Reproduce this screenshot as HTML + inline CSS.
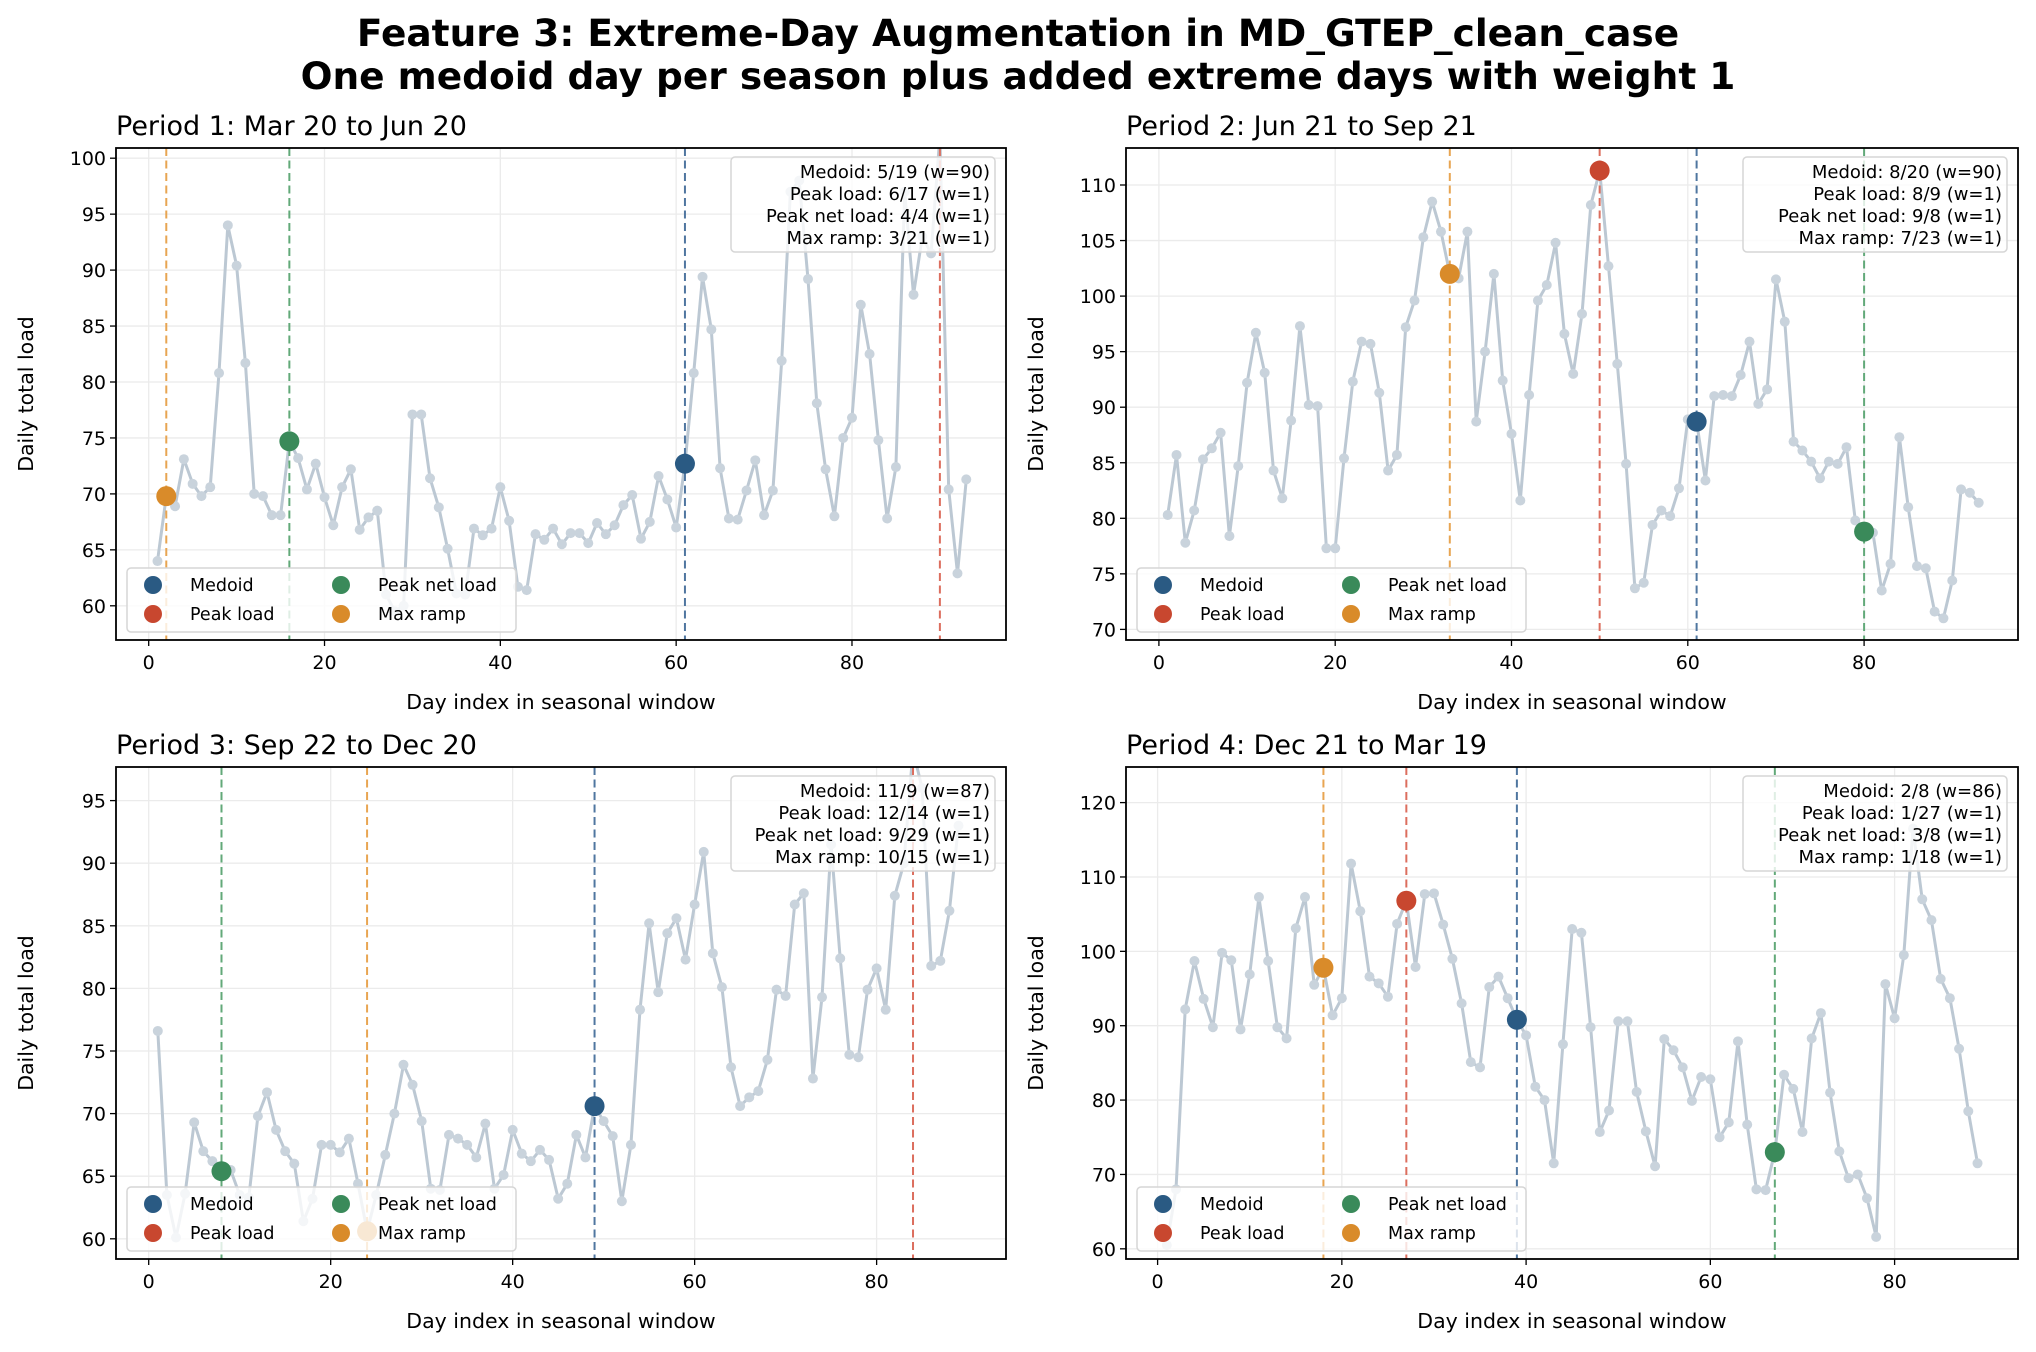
<!DOCTYPE html>
<html><head><meta charset="utf-8"><style>
html,body{margin:0;padding:0;background:#fff;}
svg{display:block;font-family:"DejaVu Sans","Liberation Sans",sans-serif;}
</style></head><body>
<svg id="s" width="2036" height="1352" viewBox="0 0 2036 1352" xmlns="http://www.w3.org/2000/svg">
<text x="1018" y="46" text-anchor="middle" font-size="37.5" font-weight="bold" fill="#000">Feature 3: Extreme-Day Augmentation in MD_GTEP_clean_case</text>
<text x="1018" y="89" text-anchor="middle" font-size="37.5" font-weight="bold" fill="#000">One medoid day per season plus added extreme days with weight 1</text>
</svg>
<script>
var S=document.getElementById('s');var NS='http://www.w3.org/2000/svg';
function el(t,a,txt,p){var e=document.createElementNS(NS,t);for(var k in a)e.setAttribute(k,a[k]);if(txt!=null)e.textContent=txt;(p||S).appendChild(e);return e;}
var C={m:'#2a5a83',p:'#c8472f',n:'#3a8a5a',r:'#d98b2a'};
var VL={m:'#4f76a0',p:'#dc6e5e',n:'#62a979',r:'#e8a552'};
var P=[
{title:'Period 1: Mar 20 to Jun 20',L:116,R:1006,T:148,B:640,x0:148.7,dx:8.791,yv:100,yp:158.2,dy:11.19,yt:[60,65,70,75,80,85,90,95,100],
info:['Medoid: 5/19 (w=90)','Peak load: 6/17 (w=1)','Peak net load: 4/4 (w=1)','Max ramp: 3/21 (w=1)'],
ev:{r:2,n:16,m:61,p:90},
d:[64.0,69.8,68.9,73.1,70.9,69.8,70.6,80.8,94.0,90.4,81.7,70.0,69.8,68.1,68.1,74.7,73.2,70.4,72.7,69.7,67.2,70.6,72.2,66.8,67.9,68.5,61,59.5,60,77.1,77.1,71.4,68.8,65.1,61.1,61.0,66.9,66.3,66.9,70.6,67.6,61.7,61.4,66.4,65.9,66.9,65.5,66.5,66.5,65.6,67.4,66.4,67.2,69.0,69.9,66.0,67.5,71.6,69.5,67.0,72.7,80.8,89.4,84.7,72.3,67.8,67.7,70.3,73.0,68.1,70.3,81.9,97,98,89.2,78.1,72.2,68.0,75.0,76.8,86.9,82.5,74.8,67.8,72.4,97,87.8,93,91.5,102,70.4,62.9,71.3]},
{title:'Period 2: Jun 21 to Sep 21',L:1126,R:2018,T:148,B:640,x0:1158.9,dx:8.815,yv:110,yp:185,dy:11.11,yt:[70,75,80,85,90,95,100,105,110],
info:['Medoid: 8/20 (w=90)','Peak load: 8/9 (w=1)','Peak net load: 9/8 (w=1)','Max ramp: 7/23 (w=1)'],
ev:{r:33,p:50,m:61,n:80},
d:[80.3,85.7,77.8,80.7,85.3,86.3,87.7,78.4,84.7,92.2,96.7,93.1,84.3,81.8,88.8,97.3,90.2,90.1,77.3,77.3,85.4,92.3,95.9,95.7,91.3,84.3,85.7,97.2,99.6,105.3,108.5,105.8,102.0,101.6,105.8,88.7,95.0,102.0,92.4,87.6,81.6,91.1,99.6,101.0,104.8,96.6,93.0,98.4,108.2,111.3,102.7,93.9,84.9,73.7,74.2,79.4,80.7,80.2,82.7,88.9,88.7,83.4,91.0,91.1,91.0,92.9,95.9,90.3,91.6,101.5,97.7,86.9,86.1,85.1,83.6,85.1,84.9,86.4,79.8,78.8,78.7,73.5,75.9,87.3,81.0,75.7,75.5,71.6,71.0,74.4,82.6,82.3,81.4]},
{title:'Period 3: Sep 22 to Dec 20',L:116,R:1006,T:767,B:1259,x0:148.7,dx:9.099,yv:95,yp:800.6,dy:12.52,yt:[60,65,70,75,80,85,90,95],
info:['Medoid: 11/9 (w=87)','Peak load: 12/14 (w=1)','Peak net load: 9/29 (w=1)','Max ramp: 10/15 (w=1)'],
ev:{n:8,r:24,m:49,p:84},
d:[76.6,63.5,60.1,63.6,69.3,67.0,66.2,65.4,65.5,63.5,63.3,69.8,71.7,68.7,67.0,66.0,61.4,63.2,67.5,67.5,66.9,68.0,64.4,60.6,63.5,66.7,70.0,73.9,72.3,69.4,64.0,63.9,68.3,68.0,67.5,66.5,69.2,64.0,65.1,68.7,66.8,66.2,67.1,66.3,63.2,64.4,68.3,66.5,70.6,69.4,68.2,63.0,67.5,78.3,85.2,79.7,84.4,85.6,82.3,86.7,90.9,82.8,80.1,73.7,70.6,71.3,71.8,74.3,79.9,79.4,86.7,87.6,72.8,79.3,91.5,82.4,74.7,74.5,79.9,81.6,78.3,87.4,90,99,96,81.8,82.2,86.2,93]},
{title:'Period 4: Dec 21 to Mar 19',L:1126,R:2018,T:767,B:1259,x0:1157.6,dx:9.2125,yv:120,yp:802.6,dy:7.437,yt:[60,70,80,90,100,110,120],
info:['Medoid: 2/8 (w=86)','Peak load: 1/27 (w=1)','Peak net load: 3/8 (w=1)','Max ramp: 1/18 (w=1)'],
ev:{r:18,p:27,m:39,n:67},
d:[60.5,68,92.2,98.7,93.6,89.8,99.8,98.8,89.5,96.9,107.3,98.7,89.8,88.3,103.1,107.3,95.5,97.8,91.4,93.7,111.8,105.4,96.6,95.7,93.9,103.7,106.8,97.9,107.7,107.8,103.6,99.0,93.0,85.1,84.4,95.2,96.6,93.7,90.8,88.7,81.8,80.0,71.5,87.5,103.0,102.5,89.8,75.7,78.6,90.6,90.6,81.1,75.8,71.1,88.2,86.7,84.4,79.9,83.1,82.8,75.0,77.0,87.9,76.7,68.0,67.9,73.0,83.4,81.5,75.7,88.3,91.7,81.0,73.1,69.5,70.0,66.8,61.6,95.6,91.0,99.5,116.5,107.0,104.2,96.3,93.7,86.9,78.5,71.5]}
];
P.forEach(function(a,i){
  function X(d){return a.x0+d*a.dx;} function Y(v){return a.yp+(a.yv-v)*a.dy;}
  var cid='c'+i; var cp=el('clipPath',{id:cid}); el('rect',{x:a.L,y:a.T,width:a.R-a.L,height:a.B-a.T},null,cp);
  var g=el('g',{'clip-path':'url(#'+cid+')'});
  [0,20,40,60,80].forEach(function(t){el('line',{x1:X(t),x2:X(t),y1:a.T,y2:a.B,stroke:'#ebebeb','stroke-width':1.3},null,g);});
  a.yt.forEach(function(t){el('line',{x1:a.L,x2:a.R,y1:Y(t),y2:Y(t),stroke:'#ebebeb','stroke-width':1.3},null,g);});
  var pts=a.d.map(function(v,k){return X(k+1).toFixed(1)+','+Y(v).toFixed(1);}).join(' ');
  el('polyline',{points:pts,fill:'none',stroke:'#bcc8d3','stroke-width':3,'stroke-linejoin':'round'},null,g);
  a.d.forEach(function(v,k){el('circle',{cx:X(k+1),cy:Y(v),r:5,fill:'#c9d3dc'},null,g);});
  for(var k in a.ev){el('line',{x1:X(a.ev[k]),x2:X(a.ev[k]),y1:a.T,y2:a.B,stroke:VL[k],'stroke-width':2,'stroke-dasharray':'8,4.5'},null,g);}
  ['m','p','n','r'].forEach(function(k){var d=a.ev[k];el('circle',{cx:X(d),cy:Y(a.d[d-1]),r:10,fill:C[k]},null,g);});
  el('rect',{x:a.L,y:a.T,width:a.R-a.L,height:a.B-a.T,fill:'none',stroke:'#000','stroke-width':1.8});
  [0,20,40,60,80].forEach(function(t){el('line',{x1:X(t),x2:X(t),y1:a.B,y2:a.B+6,stroke:'#000','stroke-width':1.3});
    el('text',{x:X(t),y:a.B+29,'text-anchor':'middle','font-size':19},String(t));});
  a.yt.forEach(function(t){el('line',{x1:a.L-6,x2:a.L,y1:Y(t),y2:Y(t),stroke:'#000','stroke-width':1.3});
    el('text',{x:a.L-10,y:Y(t)+7,'text-anchor':'end','font-size':19},String(t));});
  el('text',{x:a.L,y:a.T-13,'font-size':27},a.title);
  el('text',{x:(a.L+a.R)/2,y:a.B+69,'text-anchor':'middle','font-size':20.5},'Day index in seasonal window');
  var lx=(i%2==0)?33:1043, ly=(a.T+a.B)/2;
  el('text',{x:lx,y:ly,'text-anchor':'middle','font-size':20.5,transform:'rotate(-90 '+lx+' '+ly+')'},'Daily total load');
  var gx=a.L+11, gy=a.B-72;
  el('rect',{x:gx,y:gy,width:389,height:64,rx:4,fill:'#fff','fill-opacity':0.8,stroke:'#d6d6d6','stroke-width':1.5});
  [['m','Medoid',0,0],['p','Peak load',0,1],['n','Peak net load',1,0],['r','Max ramp',1,1]].forEach(function(q){
    var cx=gx+26+q[2]*188, cy=gy+17+q[3]*29;
    el('circle',{cx:cx,cy:cy,r:9,fill:C[q[0]]});
    el('text',{x:cx+37,y:cy+6,'font-size':17.5},q[1]);});
  var bx=a.R-275, by=a.T+9;
  el('rect',{x:bx,y:by,width:264,height:95,rx:4,fill:'#fff','fill-opacity':0.8,stroke:'#d6d6d6','stroke-width':1.5});
  a.info.forEach(function(s,j){el('text',{x:a.R-16,y:by+21+j*22,'text-anchor':'end','font-size':18},s);});
});
</script>
</body></html>
